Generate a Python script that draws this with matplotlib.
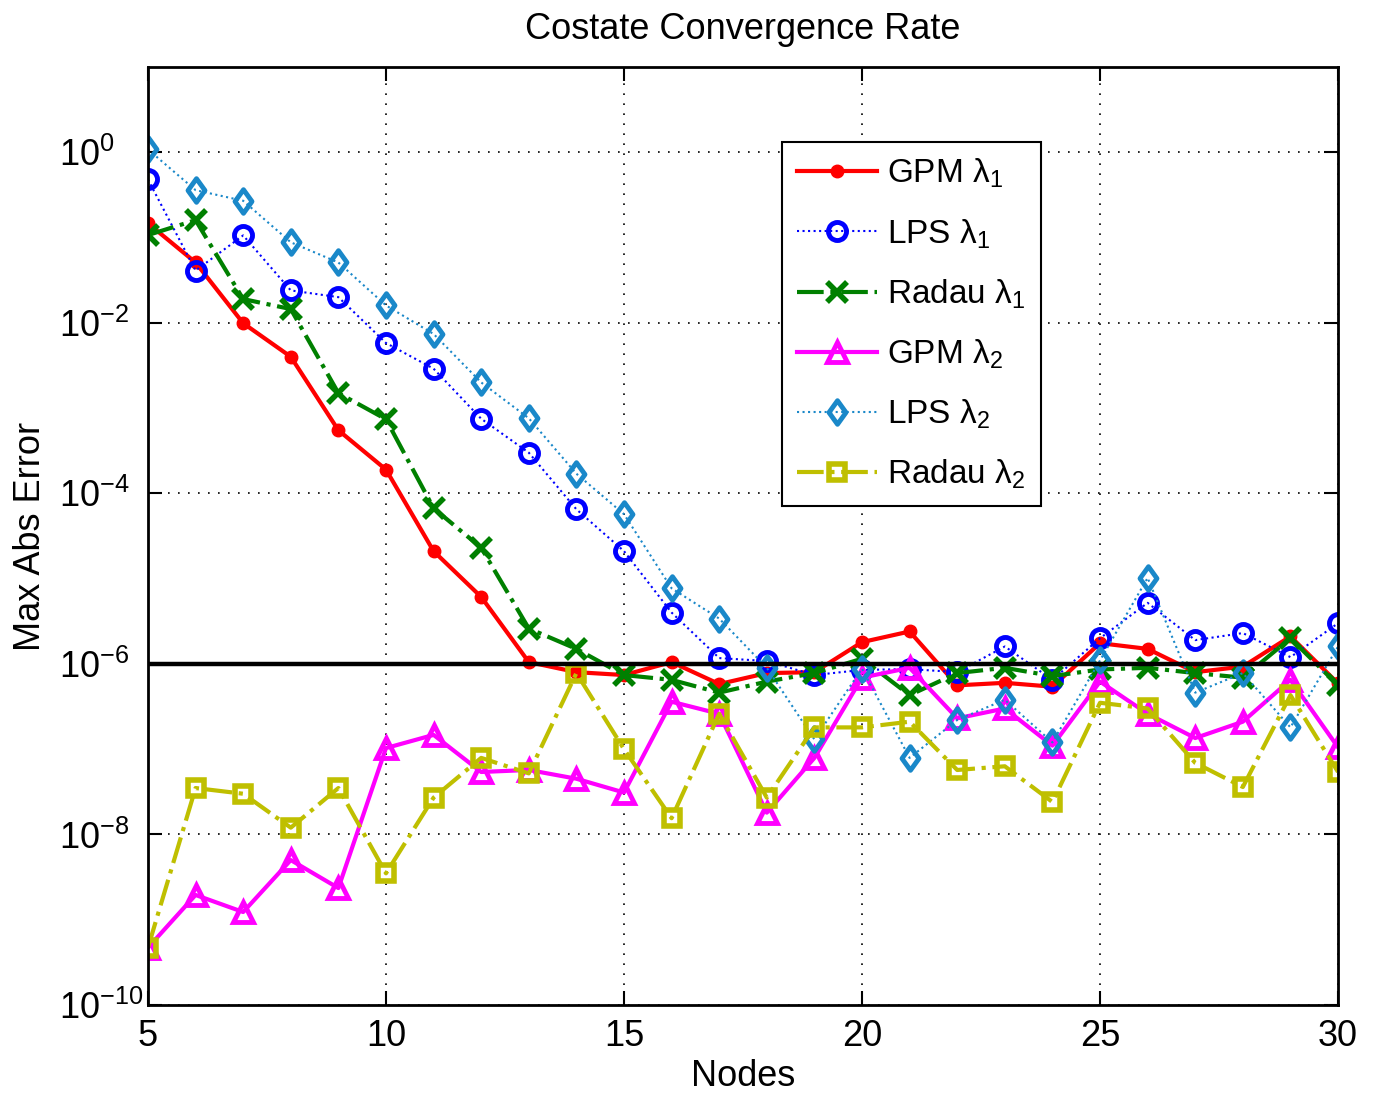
import numpy as np
import matplotlib.pyplot as plt
from matplotlib.path import Path
from matplotlib.ticker import FixedLocator, LogFormatterSciNotation, NullLocator

plt.rcParams['font.family'] = ['Liberation Sans', 'DejaVu Sans']
plt.rcParams['mathtext.fontset'] = 'custom'
plt.rcParams['mathtext.rm'] = 'Liberation Sans'
plt.rcParams['mathtext.it'] = 'Liberation Sans'
plt.rcParams['mathtext.default'] = 'regular'

nodes = np.arange(5, 31)

gpm_l1 = [1.47e-1, 5.1e-2, 9.9e-3, 4.0e-3, 5.5e-4, 1.9e-4, 2.1e-5, 6.1e-6, 1.05e-6, 8.0e-7,
          7.4e-7, 1.05e-6, 5.8e-7, 7.8e-7, 8.0e-7, 1.8e-6, 2.4e-6, 5.6e-7, 6.0e-7, 5.4e-7,
          1.75e-6, 1.5e-6, 8.0e-7, 9.3e-7, 2.1e-6, 5.9e-7]
lps_l1 = [4.8e-1, 4.1e-2, 1.06e-1, 2.4e-2, 2.0e-2, 5.8e-3, 2.9e-3, 7.5e-4, 3.0e-4, 6.5e-5,
          2.1e-5, 4.0e-6, 1.17e-6, 1.08e-6, 7.4e-7, 8.5e-7, 8.7e-7, 8.0e-7, 1.6e-6, 6.5e-7,
          2.0e-6, 5.2e-6, 1.9e-6, 2.3e-6, 1.2e-6, 3.0e-6]
radau_l1 = [1.07e-1, 1.6e-1, 1.9e-2, 1.45e-2, 1.5e-3, 7.4e-4, 6.7e-5, 2.3e-5, 2.6e-6, 1.5e-6,
            7.4e-7, 6.5e-7, 4.6e-7, 6.2e-7, 7.8e-7, 1.15e-6, 4.3e-7, 7.8e-7, 9.0e-7, 7.2e-7,
            8.6e-7, 9.0e-7, 7.8e-7, 6.9e-7, 2.0e-6, 5.6e-7]
gpm_l2 = [4.7e-10, 1.95e-9, 1.23e-9, 5.0e-9, 2.35e-9, 1.03e-7, 1.47e-7, 5.4e-8, 5.7e-8, 4.5e-8,
          3.1e-8, 3.6e-7, 2.6e-7, 1.8e-8, 7.9e-8, 6.9e-7, 9.0e-7, 2.3e-7, 3.0e-7, 1.1e-7,
          6.2e-7, 2.6e-7, 1.35e-7, 2.1e-7, 6.5e-7, 1.05e-7]
lps_l2 = [1.08, 3.6e-1, 2.7e-1, 8.8e-2, 5.1e-2, 1.6e-2, 7.4e-3, 2.0e-3, 7.6e-4, 1.7e-4,
          5.7e-5, 7.7e-6, 3.4e-6, 9.0e-7, 1.3e-7, 8.8e-7, 7.9e-8, 2.2e-7, 3.8e-7, 1.2e-7,
          1.1e-6, 1.02e-5, 4.6e-7, 7.8e-7, 1.8e-7, 1.6e-6]
radau_l2 = [4.7e-10, 3.5e-8, 3.0e-8, 1.2e-8, 3.5e-8, 3.5e-9, 2.7e-8, 7.9e-8, 5.2e-8, 7.8e-7,
            1.0e-7, 1.55e-8, 2.6e-7, 2.7e-8, 1.8e-7, 1.8e-7, 2.1e-7, 5.7e-8, 6.3e-8, 2.4e-8,
            3.5e-7, 3.0e-7, 6.9e-8, 3.6e-8, 4.3e-7, 5.4e-8]
tolerance = 1e-6

# diamond a bit wider than matplotlib's thin diamond
diamond = Path([(0, 1), (0.72, 0), (0, -1), (-0.72, 0), (0, 1)],
               [Path.MOVETO, Path.LINETO, Path.LINETO, Path.LINETO, Path.CLOSEPOLY])

fig = plt.figure(figsize=(13.79, 10.97), dpi=100)
ax = fig.add_axes([0.1073, 0.0839, 0.8630, 0.8550])

ax.semilogy(nodes, gpm_l1, '-', color='#ff0000', lw=3, marker='o', ms=9,
            mfc='#ff0000', mec='#ff0000', label=r'GPM $\lambda_1$')
ax.semilogy(nodes, lps_l1, ':', color='#0000ff', lw=1.5, marker='o', ms=13,
            mfc='none', mec='#0000ff', mew=3.5, label=r'LPS $\lambda_1$')
ax.semilogy(nodes, radau_l1, '-.', color='#008000', lw=3, marker='x', ms=14,
            mew=4, label=r'Radau $\lambda_1$')
ax.semilogy(nodes, gpm_l2, '-', color='#ff00ff', lw=3, marker='^', ms=15,
            mfc='none', mec='#ff00ff', mew=3.5, label=r'GPM $\lambda_2$')
ax.semilogy(nodes, lps_l2, ':', color='#1a88c9', lw=1.5, marker=diamond, ms=17,
            mfc='none', mec='#1a88c9', mew=3.5, label=r'LPS $\lambda_2$')
ax.semilogy(nodes, radau_l2, '-.', color='#bfbf00', lw=3, marker='s', ms=12,
            mfc='none', mec='#bfbf00', mew=4, label=r'Radau $\lambda_2$')
ax.axhline(tolerance, color='black', lw=3.2, zorder=5)

ax.set_xlim(5, 30)
ax.set_ylim(1e-10, 1e1)
ax.set_xticks([5, 10, 15, 20, 25, 30])
ax.yaxis.set_major_locator(FixedLocator([1e-10, 1e-8, 1e-6, 1e-4, 1e-2, 1e0]))
ax.yaxis.set_major_formatter(LogFormatterSciNotation())
ax.yaxis.set_minor_locator(NullLocator())
ax.tick_params(which='major', direction='in', length=10, width=1.5,
               top=True, right=True, labelsize=26)
ax.tick_params(axis='x', pad=10)
ax.tick_params(axis='y', pad=64)
for lab in ax.get_yticklabels():
    lab.set_horizontalalignment('left')
ax.grid(True, linestyle=(0, (1, 5)), color='black', lw=1.2)
for s in ax.spines.values():
    s.set_linewidth(2)

ax.set_title('Costate Convergence Rate', fontsize=26, pad=20)
ax.set_xlabel('Nodes', fontsize=26, labelpad=4)
ax.set_ylabel('Max Abs Error', fontsize=26, labelpad=8)

leg = ax.legend(loc='upper left', bbox_to_anchor=(0.533, 0.92), fontsize=24,
                frameon=True, fancybox=False, edgecolor='black', framealpha=1,
                handlelength=2.4, handletextpad=0.3, labelspacing=0.8,
                borderpad=0.45, borderaxespad=0)
leg.get_frame().set_linewidth(1.5)

fig.savefig('out.png', dpi=100)
